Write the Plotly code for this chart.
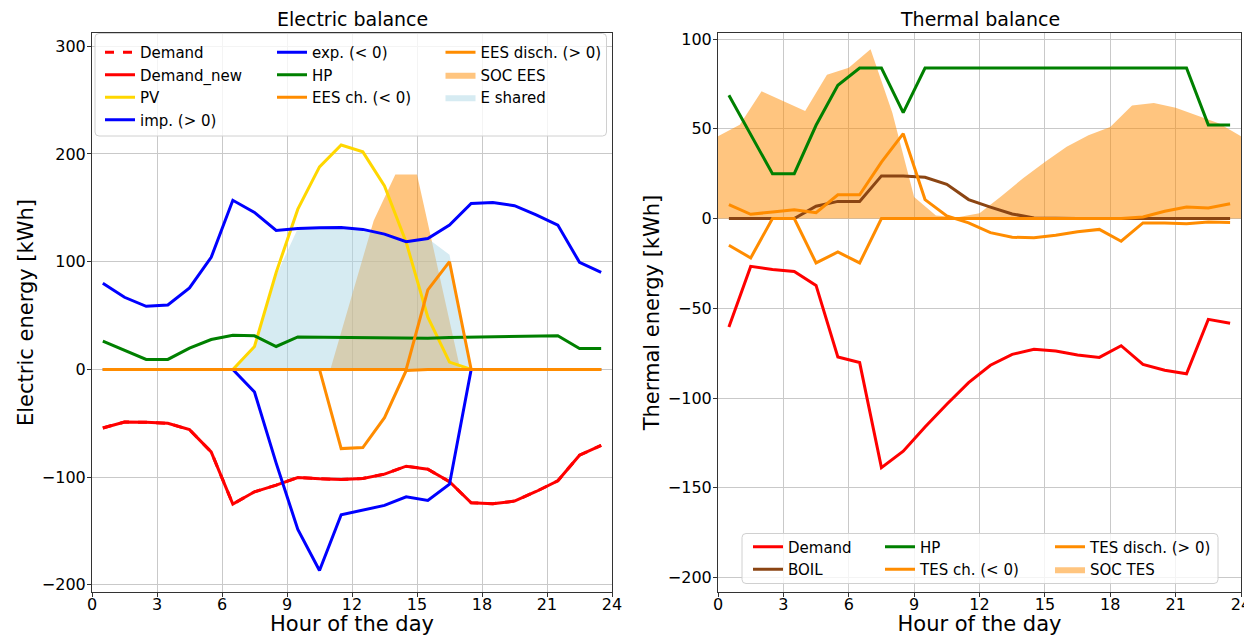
import plotly.graph_objects as go

# ---------------- data ----------------
hours = [0.5, 1.5, 2.5, 3.5, 4.5, 5.5, 6.5, 7.5, 8.5, 9.5, 10.5, 11.5,
         12.5, 13.5, 14.5, 15.5, 16.5, 17.5, 18.5, 19.5, 20.5, 21.5, 22.5, 23.5]
hours_soc = [0, 1, 2, 3, 4, 5, 6, 7, 8, 9, 10, 11, 12,
             13, 14, 15, 16, 17, 18, 19, 20, 21, 22, 23, 24]

# Electric balance
el_demand = [-54.3, -48.8, -49.0, -50.0, -55.9, -76.5, -125.0, -113.6, -107.4, -100.3, -101.5, -102.2,
             -101.2, -97.2, -89.8, -92.6, -104.3, -123.8, -124.7, -122.2, -113.3, -103.4, -79.6, -70.4]
el_demand_new = [-54.3, -48.8, -49.0, -50.0, -55.9, -76.5, -125.0, -113.6, -107.4, -100.3, -101.5, -102.2,
                 -101.2, -97.2, -89.8, -92.6, -104.3, -123.8, -124.7, -122.2, -113.3, -103.4, -79.6, -70.4]
el_pv = [0, 0, 0, 0, 0, 0, 0, 21.3, 90.0, 148.8, 188.0, 208.3,
         202.0, 170.4, 118.0, 48.5, 6.8, 0, 0, 0, 0, 0, 0, 0]
el_imp = [80.0, 67.0, 58.6, 59.9, 75.6, 104.0, 157.0, 145.7, 129.0, 130.9, 131.5, 131.8,
          130.0, 125.6, 118.5, 121.6, 134.0, 154.0, 155.0, 152.0, 143.5, 134.0, 99.4, 90.0]
el_exp = [0, 0, 0, 0, 0, 0, 0, -21.0, -87.0, -148.5, -186.7, -134.9,
          -130.2, -126.2, -118.2, -121.6, -106.5, 0, 0, 0, 0, 0, 0, 0]
el_hp = [26.2, 17.6, 9.3, 9.3, 19.8, 27.8, 31.8, 31.2, 21.3, 30.2, 30.0, 29.6,
         29.0, 29.0, 29.0, 29.0, 29.6, 30.0, 30.5, 30.5, 30.9, 31.2, 19.4, 19.4]
el_ees_ch = [0, 0, 0, 0, 0, 0, 0, 0, 0, 0, 0, -73.5,
             -72.5, -44.8, -1.0, 0, 0, 0, 0, 0, 0, 0, 0, 0]
el_ees_dis = [0, 0, 0, 0, 0, 0, 0, 0, 0, 0, 0, 0,
              0, 0, 0, 73.8, 100.0, 0, 0, 0, 0, 0, 0, 0]
el_soc_ees = [0, 0, 0, 0, 0, 0, 0, 0, 0, 0, 0, 0, 69.0,
              138.0, 181.0, 181.0, 90.5, 0, 0, 0, 0, 0, 0, 0, 0]
el_shared = [0, 0, 0, 0, 0, 0, 0, 21.0, 87.0, 130.9, 131.5, 131.8,
             130.0, 125.6, 118.2, 121.6, 106.5, 0, 0, 0, 0, 0, 0, 0]

# Thermal balance
th_demand = [-60.4, -26.6, -28.4, -29.4, -37.2, -77.1, -80.2, -138.7, -129.6, -116.1, -103.4, -91.4,
             -81.7, -75.6, -72.8, -73.7, -76.0, -77.3, -70.8, -81.2, -84.5, -86.4, -56.1, -58.3]
th_boil = [0, 0, 0, 0, 6.9, 9.6, 9.6, 23.8, 23.8, 23.0, 19.1, 10.6,
           6.4, 2.6, 0.4, 0, 0, 0, 0, 0, 0, 0, 0, 0]
th_hp = [68.7, 46.8, 25.0, 25.0, 52.0, 74.3, 83.9, 83.9, 59.0, 83.9, 83.9, 83.9,
         83.9, 83.9, 83.9, 83.9, 83.9, 83.9, 83.9, 83.9, 83.9, 83.9, 52.2, 52.2]
th_tes_ch = [-14.8, -21.9, 0, 0, -24.7, -18.6, -24.7, 0, 0, 0, 0, 0,
             0, 0, 0, 0, 0, 0, 0, 0.9, 4.1, 6.5, 5.9, 8.3]
th_tes_dis = [7.8, 2.4, 3.7, 5.0, 3.3, 13.3, 13.3, 31.5, 47.3, 10.6, 1.5, -2.4,
              -7.8, -10.4, -10.6, -9.3, -7.3, -6.0, -12.6, -2.4, -2.4, -2.8, -1.9, -2.2]
th_soc_tes = [45.9, 52.3, 70.9, 65.5, 60.0, 80.2, 84.1, 94.3, 59.0, 12.0, 1.8, 0.8, 3.0,
              12.5, 22.5, 31.5, 40.0, 46.5, 51.0, 63.0, 64.4, 61.8, 57.5, 53.0, 45.9]

x_ticks = [0, 3, 6, 9, 12, 15, 18, 21, 24]

# ---------------- layout geometry ----------------
OFF = 8  # page body margin of the html page
W, H = 1252 - OFF, 636 - OFF
ML, MR, MT, MB = 92 - OFF, 11, 33 - OFF, 44
PW, PH = W - ML - MR, H - MT - MB


def px_x(px):
    return (px - OFF - ML) / PW


def px_y(py):
    return (H - MB - (py - OFF)) / PH


FONT = "DejaVu Sans"
LW = 3
RED, BLUE, GOLD, GREEN, ORANGE, BROWN = "#ff0000", "#0000ff", "#ffd700", "#008000", "#ff8c00", "#8b4513"

fig = go.Figure()

# ----- Electric (left) -----
fig.add_trace(go.Scatter(x=hours_soc, y=el_soc_ees, name="SOC EES", mode="lines", fill="tozeroy",
                         line=dict(width=0, color="rgba(255,140,0,0.5)"), fillcolor="rgba(255,140,0,0.5)",
                         xaxis="x", yaxis="y", legend="legend3", legendrank=2))
fig.add_trace(go.Scatter(x=hours, y=el_shared, name="E shared", mode="lines", fill="tozeroy",
                         line=dict(width=0, color="rgba(173,216,230,0.5)"), fillcolor="rgba(173,216,230,0.5)",
                         xaxis="x", yaxis="y", legend="legend3", legendrank=3))
fig.add_trace(go.Scatter(x=hours, y=el_demand, name="Demand", mode="lines",
                         line=dict(width=LW, color=RED, dash="dash"), xaxis="x", yaxis="y",
                         legend="legend", legendrank=1))
fig.add_trace(go.Scatter(x=hours, y=el_demand_new, name="Demand_new", mode="lines",
                         line=dict(width=LW, color=RED), xaxis="x", yaxis="y",
                         legend="legend", legendrank=2))
fig.add_trace(go.Scatter(x=hours, y=el_pv, name="PV", mode="lines",
                         line=dict(width=LW, color=GOLD), xaxis="x", yaxis="y",
                         legend="legend", legendrank=3))
fig.add_trace(go.Scatter(x=hours, y=el_imp, name="imp. (> 0)", mode="lines",
                         line=dict(width=LW, color=BLUE), xaxis="x", yaxis="y",
                         legend="legend", legendrank=4))
fig.add_trace(go.Scatter(x=hours, y=el_exp, name="exp. (< 0)", mode="lines",
                         line=dict(width=LW, color=BLUE), xaxis="x", yaxis="y",
                         legend="legend2", legendrank=1))
fig.add_trace(go.Scatter(x=hours, y=el_hp, name="HP", mode="lines",
                         line=dict(width=LW, color=GREEN), xaxis="x", yaxis="y",
                         legend="legend2", legendrank=2))
fig.add_trace(go.Scatter(x=hours, y=el_ees_ch, name="EES ch. (< 0)", mode="lines",
                         line=dict(width=LW, color=ORANGE), xaxis="x", yaxis="y",
                         legend="legend2", legendrank=3))
fig.add_trace(go.Scatter(x=hours, y=el_ees_dis, name="EES disch. (> 0)", mode="lines",
                         line=dict(width=LW, color=ORANGE), xaxis="x", yaxis="y",
                         legend="legend3", legendrank=1))

# ----- Thermal (right) -----
fig.add_trace(go.Scatter(x=hours_soc, y=th_soc_tes, name="SOC TES", mode="lines", fill="tozeroy",
                         line=dict(width=0, color="rgba(255,140,0,0.5)"), fillcolor="rgba(255,140,0,0.5)",
                         xaxis="x2", yaxis="y2", legend="legend6", legendrank=2))
fig.add_trace(go.Scatter(x=hours, y=th_demand, name="Demand", mode="lines",
                         line=dict(width=LW, color=RED), xaxis="x2", yaxis="y2",
                         legend="legend4", legendrank=1))
fig.add_trace(go.Scatter(x=hours, y=th_boil, name="BOIL", mode="lines",
                         line=dict(width=LW, color=BROWN), xaxis="x2", yaxis="y2",
                         legend="legend4", legendrank=2))
fig.add_trace(go.Scatter(x=hours, y=th_hp, name="HP", mode="lines",
                         line=dict(width=LW, color=GREEN), xaxis="x2", yaxis="y2",
                         legend="legend5", legendrank=1))
fig.add_trace(go.Scatter(x=hours, y=th_tes_ch, name="TES ch. (< 0)", mode="lines",
                         line=dict(width=LW, color=ORANGE), xaxis="x2", yaxis="y2",
                         legend="legend5", legendrank=2))
fig.add_trace(go.Scatter(x=hours, y=th_tes_dis, name="TES disch. (> 0)", mode="lines",
                         line=dict(width=LW, color=ORANGE), xaxis="x2", yaxis="y2",
                         legend="legend6", legendrank=1))

axis_common = dict(
    showgrid=True, gridcolor="#c9c9c9", gridwidth=1,
    zeroline=False, showline=True, linecolor="#333333", linewidth=1, mirror=True,
    ticks="outside", ticklen=4, tickcolor="#333333", tickwidth=1,
    tickfont=dict(family=FONT, size=16, color="black"),
    automargin=False,
)

dom_left = [0, px_x(612)]
dom_right = [px_x(718), 1]

xt = dict(text="Hour of the day", font=dict(family=FONT, size=21), standoff=11)

fig.update_layout(
    width=W, height=H,
    margin=dict(l=ML, r=MR, t=MT, b=MB, pad=0),
    plot_bgcolor="white", paper_bgcolor="white",
    font=dict(family=FONT, color="black"),
    showlegend=True,
    xaxis=dict(domain=dom_left, range=[0, 24], tickvals=x_ticks, anchor="y", title=xt,
               ticklabelstandoff=-6, **axis_common),
    yaxis=dict(domain=[0, 1], range=[-206.6, 312.3], tickvals=[-200, -100, 0, 100, 200, 300], anchor="x",
               title=dict(text="Electric energy [kWh]", font=dict(family=FONT, size=21), standoff=2),
               ticklabelstandoff=-2, **axis_common),
    xaxis2=dict(domain=dom_right, range=[0, 24], tickvals=x_ticks, anchor="y2", title=xt,
                ticklabelstandoff=-6, **axis_common),
    yaxis2=dict(domain=[0, 1], range=[-208.0, 103.4], tickvals=[-200, -150, -100, -50, 0, 50, 100],
                anchor="x2",
                title=dict(text="Thermal energy [kWh]", font=dict(family=FONT, size=21), standoff=2),
                ticklabelstandoff=-2, **axis_common),
)

leg_common = dict(orientation="v", xanchor="left", yanchor="top", bgcolor="rgba(0,0,0,0)",
                  borderwidth=0, font=dict(family=FONT, size=15, color="black"),
                  tracegroupgap=0, traceorder="normal")
fig.update_layout(
    legend=dict(x=px_x(100), y=px_y(36), **leg_common),
    legend2=dict(x=px_x(272), y=px_y(36), **leg_common),
    legend3=dict(x=px_x(440.5), y=px_y(36), **leg_common),
    legend4=dict(x=px_x(748), y=px_y(530.5), **leg_common),
    legend5=dict(x=px_x(880), y=px_y(530.5), **leg_common),
    legend6=dict(x=px_x(1050), y=px_y(530.5), **leg_common),
)


def rounded_box(x0, y0, x1, y1, r=4):
    # pixel box -> paper path with rounded corners
    X0, X1 = px_x(x0), px_x(x1)
    Y0, Y1 = px_y(y0), px_y(y1)  # Y0 top, Y1 bottom
    rx, ry = r / PW, r / PH
    return (f"M {X0 + rx},{Y0} L {X1 - rx},{Y0} Q {X1},{Y0} {X1},{Y0 - ry} "
            f"L {X1},{Y1 + ry} Q {X1},{Y1} {X1 - rx},{Y1} L {X0 + rx},{Y1} "
            f"Q {X0},{Y1} {X0},{Y1 + ry} L {X0},{Y0 - ry} Q {X0},{Y0} {X0 + rx},{Y0} Z")


for box in [(95, 33.5, 606.5, 136), (742, 533.5, 1218, 583.5)]:
    fig.add_shape(type="path", path=rounded_box(*box), xref="paper", yref="paper",
                  line=dict(color="#d0d0d0", width=1), fillcolor="rgba(255,255,255,0.8)", layer="above")

for txt, dom in [("Electric balance", dom_left), ("Thermal balance", dom_right)]:
    fig.add_annotation(text=txt, x=(dom[0] + dom[1]) / 2, y=1, xref="paper", yref="paper",
                       xanchor="center", yanchor="bottom", yshift=1, showarrow=False,
                       font=dict(family=FONT, size=19, color="black"))

fig.write_html("out.html")
